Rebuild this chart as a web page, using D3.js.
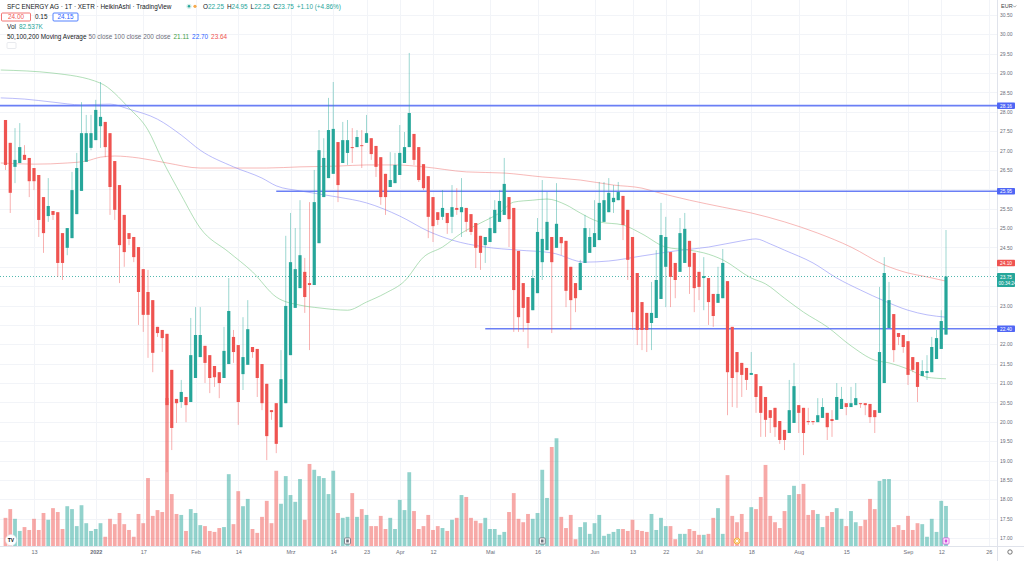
<!DOCTYPE html>
<html>
<head>
<meta charset="utf-8">
<script src="https://cdn.jsdelivr.net/npm/d3@7"></script>
<style>
  body { margin: 0; background: #fff; }
  svg { display: block; font-family: "Liberation Sans", Arial, sans-serif; }
</style>
</head>
<body>
<svg id="chart" width="1024" height="561"></svg>
<script>
// Heikin Ashi candles, one per trading day (Dec 2021 .. 13 Sep 2022)
const opens = [27.79,27.20,26.58,26.68,26.89,26.81,26.55,26.37,25.80,25.31,
 25.44,25.41,24.87,24.49,24.74,25.36,25.96,26.71,27.07,27.27,
 27.63,27.74,27.45,26.73,26.11,25.34,24.87,24.77,24.51,23.94,
 23.35,23.14,22.45,22.37,22.27,21.34,20.59,20.51,20.64,20.51,
 21.13,21.67,21.96,21.72,21.44,21.28,21.13,21.49,22.19,21.98,
 21.23,21.47,21.93,21.88,21.49,20.98,20.30,20.48,19.86,20.48,
 21.72,22.94,23.45,23.87,23.58,23.53,24.61,25.80,26.29,26.40,
 27.22,26.68,26.94,27.09,27.09,27.14,27.20,27.32,27.12,26.83,
 26.40,26.06,26.16,26.37,26.68,27.09,27.43,27.09,26.65,26.34,
 25.80,25.41,25.29,25.39,25.29,25.52,25.41,25.52,25.36,25.13,
 24.80,24.56,24.64,24.87,25.16,25.34,25.80,25.52,24.41,23.58,
 23.22,22.88,23.32,24.12,24.43,24.77,24.49,24.77,24.67,24.00,
 23.58,23.40,24.10,24.36,24.51,24.69,25.16,25.41,25.67,25.72,
 25.83,25.47,24.77,23.84,23.09,22.81,22.55,22.68,23.17,24.00,
 24.38,24.10,23.87,24.10,24.67,24.36,23.87,23.71,23.71,23.30,
 23.07,23.19,23.63,22.45,21.80,21.52,21.39,21.21,21.23,20.92,
 20.64,20.30,20.36,20.02,19.79,19.71,19.97,20.43,20.36,20.02,
 20.02,19.99,20.10,20.23,20.07,20.05,20.33,20.48,20.38,20.43,
 20.48,20.48,20.46,20.30,20.23,21.00,22.42,22.78,22.29,22.24,
 22.08,21.67,21.54,21.18,21.26,21.28,21.62,21.88,22.25];
const highs = [27.79,27.20,27.58,27.71,27.14,26.81,26.55,26.37,25.80,26.29,
 25.44,25.41,24.87,25.00,26.45,26.94,28.25,27.92,27.92,28.31,
 28.77,27.74,27.45,26.73,26.11,25.34,24.87,24.77,24.51,23.94,
 23.92,23.14,22.45,22.37,22.27,21.34,20.59,21.08,20.64,22.68,
 22.96,22.96,21.96,21.72,21.44,21.28,22.45,23.71,22.37,21.98,
 22.70,23.14,21.93,21.88,21.49,20.98,20.30,20.48,21.85,24.80,
 25.39,25.00,25.72,24.23,25.67,26.50,27.53,27.32,28.36,28.77,
 27.22,27.74,27.79,27.58,27.53,27.53,27.92,27.32,27.12,26.83,
 26.40,26.96,26.94,27.66,27.48,29.52,27.43,27.09,26.65,26.34,
 25.80,25.41,25.98,25.39,26.11,26.03,26.29,25.52,25.36,25.13,
 24.80,24.77,25.29,25.72,25.98,26.81,25.80,25.52,24.41,23.58,
 23.22,23.92,25.26,26.24,25.93,24.77,26.16,24.77,24.67,24.00,
 23.58,24.18,25.34,25.00,25.72,26.19,26.19,26.29,26.11,26.19,
 25.83,25.47,24.77,23.84,23.09,22.81,23.61,24.43,25.65,25.29,
 24.38,24.10,25.26,25.39,24.67,24.36,23.87,24.25,23.71,23.30,
 24.00,24.46,23.63,22.45,21.80,21.52,21.39,21.80,21.23,20.92,
 20.64,20.30,20.36,20.02,19.79,21.08,21.52,20.43,20.36,20.36,
 20.02,20.61,20.61,20.23,20.30,21.00,20.90,20.48,20.90,21.00,
 20.48,20.48,20.46,20.30,23.48,24.25,23.61,22.78,22.29,22.24,
 22.08,21.67,21.54,21.59,21.72,22.19,22.37,22.88,24.95];
const lows = [26.50,25.39,26.16,26.68,26.76,25.80,25.98,24.77,24.36,25.16,
 25.21,23.74,23.66,24.30,24.74,25.36,25.96,26.71,27.01,27.27,
 27.07,26.83,25.34,25.21,23.58,24.00,24.56,24.12,22.50,22.32,
 21.65,21.28,22.19,21.80,18.70,19.27,19.97,20.36,19.99,20.51,
 21.13,21.67,21.00,20.74,20.90,20.61,21.13,21.49,21.52,19.92,
 20.82,21.47,21.65,20.64,20.30,19.01,20.05,19.19,19.86,20.48,
 21.72,22.94,23.45,22.81,21.85,23.53,24.61,25.80,26.29,26.40,
 25.67,26.68,26.63,26.68,27.09,26.55,27.20,26.76,26.32,25.60,
 25.34,26.06,26.16,26.37,26.68,27.09,26.63,26.19,25.98,24.74,
 24.64,25.08,25.21,24.85,24.87,25.34,24.77,24.90,24.82,23.97,
 23.92,24.10,24.64,24.87,25.16,25.34,24.51,22.32,22.32,22.32,
 21.90,22.88,23.32,23.66,24.43,22.29,24.49,24.30,22.96,22.37,
 22.83,23.40,24.10,24.36,24.51,24.69,25.16,25.41,25.39,25.72,
 24.69,23.66,22.37,21.98,21.85,21.80,21.85,22.68,23.17,22.96,
 22.96,23.19,23.87,24.10,23.30,22.83,23.14,22.88,22.50,22.45,
 23.07,23.19,20.17,20.38,20.36,20.64,20.82,21.21,20.23,19.61,
 19.61,19.71,19.61,19.43,19.27,19.71,19.97,19.71,19.14,19.92,
 19.92,19.99,20.10,19.53,19.61,20.05,20.33,20.17,20.38,20.43,
 20.36,20.17,19.97,19.71,20.23,21.00,22.42,21.54,21.98,21.78,
 20.95,21.28,20.51,21.18,21.08,21.28,21.62,21.88,22.25];
const closes = [26.63,25.91,26.76,27.09,26.76,26.21,26.21,25.21,24.87,25.57,
 25.34,24.10,24.10,25.00,25.98,26.55,27.45,27.45,27.45,28.05,
 27.87,27.09,26.06,25.47,24.56,24.38,24.72,24.25,23.35,22.76,
 22.76,21.78,22.29,22.16,20.43,19.84,20.48,20.77,20.43,21.72,
 22.24,22.24,21.52,21.13,21.15,21.00,21.83,22.86,21.80,20.51,
 21.67,22.39,21.80,21.13,20.48,19.63,20.25,19.43,21.10,22.99,
 24.12,23.94,24.30,23.22,23.53,25.67,27.01,26.81,27.53,27.56,
 26.11,27.27,27.27,27.07,27.35,27.12,27.45,26.91,26.58,25.80,
 25.80,26.24,26.63,26.94,27.09,27.97,26.76,26.24,26.03,25.29,
 25.05,25.21,25.52,25.13,25.54,25.47,25.54,25.16,24.90,24.49,
 24.36,24.77,25.00,25.47,25.70,26.14,25.23,23.40,22.70,22.94,
 22.55,23.71,24.90,24.72,25.16,24.12,25.11,24.61,23.38,23.14,
 23.19,24.10,25.00,24.77,24.87,25.65,25.72,25.91,25.78,25.93,
 25.08,24.18,22.83,22.37,22.37,22.37,22.81,23.66,24.82,24.77,
 23.74,23.66,24.87,24.98,24.00,23.45,23.48,23.76,23.09,22.73,
 23.30,24.10,21.28,21.13,21.28,21.21,21.08,21.26,20.64,20.23,
 20.05,20.10,19.86,19.53,19.53,20.30,20.92,20.23,19.71,19.99,
 19.99,20.17,20.38,19.86,20.02,20.64,20.59,20.38,20.48,20.61,
 20.46,20.43,20.12,20.12,21.80,23.84,23.14,21.85,22.19,21.93,
 21.21,21.34,20.90,21.31,21.31,21.93,22.16,22.60,23.75];
// volume in thousands
const volumes = [58,76,56,31,39,33,56,33,68,54,
 78,70,35,82,76,41,84,47,31,35,
 47,19,56,45,68,45,33,19,66,47,
 140,62,74,70,305,107,66,64,31,76,
 68,43,41,31,29,37,39,148,45,113,
 82,97,35,27,60,93,47,155,87,144,
 105,91,138,54,169,157,144,140,107,155,
 68,58,60,109,60,76,64,41,41,62,
 35,58,35,95,74,152,72,35,41,64,
 33,41,37,31,54,58,105,101,58,52,
 47,58,35,35,23,29,70,109,56,49,
 66,56,68,157,99,204,222,60,37,64,
 14,39,49,25,47,64,21,25,29,35,
 35,31,54,33,31,29,66,33,58,41,
 41,14,25,25,35,31,23,23,25,58,
 78,25,146,62,49,66,29,80,76,101,
 167,62,49,37,72,105,124,107,128,64,
 74,66,39,62,70,78,56,41,72,49,
 41,54,97,76,134,138,138,39,43,33,
 62,33,47,45,19,56,29,93,82.5];

// moving averages: [bar index, value]
const ma50 = [[-1,29.08],[10,29.00],[20,28.74],[26,28.10],[30,27.53],[33,26.76],[37,25.85],[41,25.00],
 [47,24.38],[52,23.87],[57,23.22],[62,23.01],[66,22.94],[72,22.88],[76,23.09],[80,23.32],[84,23.63],
 [88,24.25],[92,24.51],[96,24.87],[100,25.13],[104,25.39],[107,25.67],[111,25.72],[114,25.75],
 [118,25.60],[121,25.39],[125,25.16],[130,25.08],[134,24.85],[139,24.51],[144,24.43],[147,24.36],
 [151,24.18],[157,23.71],[160,23.56],[164,23.19],[168,22.83],[173,22.45],[178,21.96],[183,21.59],
 [186,21.52],[190,21.36],[194,21.15],[198,21.11]];
const ma100 = [[-1,28.36],[4,28.33],[10,28.25],[16,28.18],[22,28.20],[26,28.07],[32,27.81],[37,27.40],
 [41,27.01],[48,26.58],[54,26.29],[57,26.09],[62,25.96],[70,25.80],[76,25.65],[83,25.31],[89,24.92],
 [94,24.69],[101,24.51],[108,24.43],[115,24.36],[122,24.12],[127,24.15],[134,24.28],[141,24.41],
 [148,24.51],[155,24.67],[158,24.72],[161,24.59],[164,24.43],[170,24.10],[175,23.71],[180,23.40],
 [185,23.12],[190,22.88],[194,22.76],[198,22.70]];
const ma200 = [[-1,26.68],[6,26.65],[13,26.68],[17,26.73],[20,26.83],[23,26.86],[28,26.81],[34,26.68],
 [41,26.55],[48,26.55],[55,26.55],[62,26.58],[70,26.60],[76,26.63],[82,26.63],[88,26.58],[97,26.45],
 [105,26.42],[113,26.32],[121,26.24],[128,26.11],[134,26.03],[137,25.93],[144,25.72],[151,25.54],
 [157,25.39],[164,25.16],[171,24.87],[178,24.51],[185,24.05],[190,23.84],[194,23.74],[198,23.63]];

// drawn horizontal levels and the bar each one starts at (null = left edge)
const levels = [28.16, 25.95, 22.40];
const levelStart = [null, 57, 101];

// time axis
const tickIdx = [6,19,29,40,49,60,69,76,83,90,102,112,124,132,139,146,157,167,177,190,197,207];
const tickLabels = ["13","2022","17","Feb","14","Mrz","14","23","Apr","12","Mai","16","Jun","13","22","Jul","18","Aug","15","Sep","12","26"];

// event markers under the bars
const markerIdx = [72, 113, 154, 198];
const markerKind = ["grey", "grey", "orange", "pink"];

const lastPrice = 23.75, redPrice = 24.10;

const up = "#26a69a", down = "#ef5350";
const plotRight = 997, plotBottom = 546;
const N = closes.length;

const svg = d3.select("#chart");

const x = d3.scaleLinear().domain([0, N - 1]).range([5.5, 946]);
const y = d3.scaleLinear().domain([17, 30.5]).range([538, 15]);
const yVol = d3.scaleLinear().domain([0, 300]).range([plotBottom, 400.4]);

svg.append("defs").append("clipPath").attr("id", "plot")
  .append("rect").attr("x", 0).attr("y", 0).attr("width", plotRight).attr("height", plotBottom);

const plot = svg.append("g").attr("clip-path", "url(#plot)");

// grid
const priceTicks = d3.range(17, 30.51, 0.5);
plot.append("g").selectAll("line").data(priceTicks).join("line")
  .attr("x1", 0).attr("x2", plotRight)
  .attr("y1", d => Math.round(y(d)) + 0.5).attr("y2", d => Math.round(y(d)) + 0.5)
  .attr("stroke", "#f2f4f8");
plot.append("g").selectAll("line").data(tickIdx).join("line")
  .attr("x1", d => Math.round(x(d)) + 0.5).attr("x2", d => Math.round(x(d)) + 0.5)
  .attr("y1", 0).attr("y2", plotBottom)
  .attr("stroke", "#f2f4f8");

const bars = d3.range(N).map(i => ({i, o: opens[i], h: highs[i], l: lows[i], c: closes[i], v: volumes[i]}));

// volume
plot.append("g").selectAll("rect").data(bars).join("rect")
  .attr("x", d => x(d.i) - 1.9).attr("width", 3.8)
  .attr("y", d => yVol(d.v)).attr("height", d => plotBottom - yVol(d.v))
  .attr("fill", d => d.c >= d.o ? up : down)
  .attr("fill-opacity", 0.5);

// moving averages
const line = d3.line().x(d => x(d[0])).y(d => y(d[1])).curve(d3.curveMonotoneX);
[[ma200, "#f28b89"], [ma100, "#8c8ff7"], [ma50, "#7fc98a"]].forEach(([data, col]) => {
  plot.append("path").datum(data).attr("d", line)
    .attr("fill", "none").attr("stroke", col).attr("stroke-width", 1).attr("stroke-opacity", 0.6);
});

// horizontal levels
plot.append("g").selectAll("line").data(levels).join("line")
  .attr("x1", (d, k) => levelStart[k] === null ? 0 : x(levelStart[k]))
  .attr("x2", plotRight)
  .attr("y1", d => y(d)).attr("y2", d => y(d))
  .attr("stroke", "#6a7ff5").attr("stroke-width", 1.6);

// last price line
plot.append("line")
  .attr("x1", 0).attr("x2", plotRight)
  .attr("y1", y(lastPrice)).attr("y2", y(lastPrice))
  .attr("stroke", up).attr("stroke-width", 0.8).attr("stroke-dasharray", "1,2");

// candles
const candles = plot.append("g").selectAll("g").data(bars).join("g")
  .attr("fill", d => d.c >= d.o ? up : down)
  .attr("stroke", d => d.c >= d.o ? up : down);
candles.append("line")
  .attr("x1", d => x(d.i)).attr("x2", d => x(d.i))
  .attr("y1", d => y(d.h)).attr("y2", d => y(d.l))
  .attr("stroke-width", 1).attr("stroke-opacity", 0.45);
candles.append("rect")
  .attr("x", d => x(d.i) - 1.6).attr("width", 3.2)
  .attr("y", d => y(Math.max(d.o, d.c)))
  .attr("height", d => Math.max(1, Math.abs(y(d.o) - y(d.c))))
  .attr("stroke", "none");

// markers
const markerColor = {grey: "#6b6f7a", orange: "#f5a623", pink: "#d54ce0"};
const mk = svg.append("g").selectAll("g").data(markerIdx.map((d, k) => ({i: d, kind: markerKind[k]}))).join("g")
  .attr("transform", d => `translate(${x(d.i)},541)`);
mk.filter(d => d.kind !== "orange").append("rect")
  .attr("x", -3).attr("y", -3).attr("width", 6).attr("height", 6).attr("rx", 0.8)
  .attr("fill", "#fff").attr("stroke", d => markerColor[d.kind]).attr("stroke-width", 0.8);
mk.filter(d => d.kind !== "orange").append("rect")
  .attr("x", -1.3).attr("y", -1.5).attr("width", 2.6).attr("height", 3)
  .attr("fill", d => markerColor[d.kind]);
mk.filter(d => d.kind === "orange").append("circle")
  .attr("r", 3).attr("fill", "#fff").attr("stroke", markerColor.orange).attr("stroke-width", 0.9);
mk.filter(d => d.kind === "orange").append("rect")
  .attr("x", -1.3).attr("y", -1.3).attr("width", 2.6).attr("height", 2.6)
  .attr("fill", "none").attr("stroke", markerColor.orange).attr("stroke-width", 0.6);

// axis borders
svg.append("line").attr("x1", plotRight + 0.5).attr("x2", plotRight + 0.5)
  .attr("y1", 0).attr("y2", 561).attr("stroke", "#e0e3eb");
svg.append("line").attr("x1", 0).attr("x2", 1024)
  .attr("y1", plotBottom + 0.5).attr("y2", plotBottom + 0.5).attr("stroke", "#e0e3eb");

// price axis: labels covered by a price tag are left out
const tagSpans = levels.concat([redPrice]).map(v => [y(v) - 3.25, y(v) + 3.25])
  .concat([[y(lastPrice) - 3.5, y(lastPrice) + 10.5]]);
const freeTicks = priceTicks.filter(v => !tagSpans.some(([a, b]) => y(v) + 2.2 > a && y(v) - 2.2 < b));
const yAxis = svg.append("g").attr("transform", `translate(${plotRight + 2},0)`)
  .call(d3.axisRight(y).tickValues(freeTicks).tickFormat(d3.format(".2f")).tickSize(0).tickPadding(1));
yAxis.select(".domain").remove();
yAxis.selectAll("text").attr("fill", "#6a6d78").style("font-size", "5px");

// time axis
const xAxis = svg.append("g").attr("transform", `translate(0,${plotBottom})`)
  .call(d3.axisBottom(x).tickValues(tickIdx)
    .tickFormat(d => tickLabels[tickIdx.indexOf(d)]).tickSize(0).tickPadding(4));
xAxis.select(".domain").remove();
xAxis.selectAll("text").attr("fill", "#6a6d78").style("font-size", "5.5px")
  .style("font-weight", d => tickLabels[tickIdx.indexOf(d)] === "2022" ? "bold" : "normal");

// axis price labels
function axisTag(value, fill, txt, h) {
  const g = svg.append("g").attr("transform", `translate(${plotRight},${y(value)})`);
  g.append("rect").attr("x", 0).attr("y", -h / 2).attr("width", 18).attr("height", h)
    .attr("rx", 0.8).attr("fill", fill);
  txt.forEach((t, k) => {
    g.append("text").attr("x", 3).attr("y", -h / 2 + 5.2 + k * 6.5)
      .attr("fill", "#fff").style("font-size", "4.8px").text(t);
  });
}
levels.forEach(v => axisTag(v, "#4f66f5", [v.toFixed(2)], 6.5));
axisTag(redPrice, down, [redPrice.toFixed(2)], 6.5);
svg.append("rect").attr("x", plotRight).attr("y", y(lastPrice) - 3.5).attr("width", 18).attr("height", 14)
  .attr("rx", 0.8).attr("fill", up);
svg.append("text").attr("x", plotRight + 3).attr("y", y(lastPrice) + 2)
  .attr("fill", "#fff").style("font-size", "4.8px").text(lastPrice.toFixed(2));
svg.append("text").attr("x", plotRight + 1.5).attr("y", y(lastPrice) + 8.5)
  .attr("fill", "#fff").style("font-size", "4.6px").text("00:34:24");

// currency + gear
svg.append("text").attr("x", 1001).attr("y", 8).attr("fill", "#444").style("font-size", "5.5px").text("EUR");
svg.append("path").attr("d", "M1013,5.5 l1.6,1.6 l1.6,-1.6").attr("fill", "none").attr("stroke", "#666").attr("stroke-width", 0.6);
svg.append("circle").attr("cx", 1010).attr("cy", 552).attr("r", 2.2)
  .attr("fill", "none").attr("stroke", "#555").attr("stroke-width", 0.8);

// TradingView logo
svg.append("circle").attr("cx", 11).attr("cy", 540).attr("r", 5.5).attr("fill", "#fff")
  .attr("stroke", "#e0e3eb").attr("stroke-width", 0.5);
svg.append("text").attr("x", 11).attr("y", 542).attr("text-anchor", "middle")
  .attr("fill", "#131722").style("font-size", "5px").style("font-weight", "bold").text("TV");

// header
const hdr = svg.append("g").style("font-size", "6.4px");
const l1 = hdr.append("text").attr("x", 7).attr("y", 8.5).attr("fill", "#131722");
l1.append("tspan").text("SFC ENERGY AG · 1T · XETR · HeikinAshi · TradingView");
hdr.append("circle").attr("cx", 189).attr("cy", 6.3).attr("r", 2.6).attr("fill", "#d7eee9");
hdr.append("circle").attr("cx", 189).attr("cy", 6.3).attr("r", 1.2).attr("fill", up);
hdr.append("circle").attr("cx", 195).attr("cy", 6.3).attr("r", 1.6).attr("fill", "#f7a94b");
const ohlc = hdr.append("text").attr("x", 203).attr("y", 8.5);
[["O", "22.25"], ["H", "24.95"], ["L", "22.25"], ["C", "23.75"]].forEach(([k, v], n) => {
  ohlc.append("tspan").attr("fill", "#131722").attr("dx", n ? 3 : 0).text(k);
  ohlc.append("tspan").attr("fill", up).text(v);
});
ohlc.append("tspan").attr("fill", up).attr("dx", 3).text("+1.10 (+4.86%)");

hdr.append("rect").attr("x", 1.5).attr("y", 13).attr("width", 29).attr("height", 8)
  .attr("rx", 1).attr("fill", "#fff").attr("stroke", down).attr("stroke-width", 0.8);
hdr.append("text").attr("x", 16).attr("y", 19.3).attr("text-anchor", "middle").attr("fill", down).text("24.00");
hdr.append("text").attr("x", 35).attr("y", 19.3).attr("fill", "#131722").text("0.15");
hdr.append("rect").attr("x", 53).attr("y", 13).attr("width", 25).attr("height", 8)
  .attr("rx", 1).attr("fill", "#fff").attr("stroke", "#2962ff").attr("stroke-width", 0.8);
hdr.append("text").attr("x", 65.5).attr("y", 19.3).attr("text-anchor", "middle").attr("fill", "#2962ff").text("24.15");

const l3 = hdr.append("text").attr("x", 7).attr("y", 29);
l3.append("tspan").attr("fill", "#131722").text("Vol");
l3.append("tspan").attr("fill", up).attr("dx", 3).text("82.537K");

const l4 = hdr.append("text").attr("x", 7).attr("y", 39);
l4.append("tspan").attr("fill", "#131722").text("50,100,200 Moving Average");
l4.append("tspan").attr("fill", "#6a6d78").attr("dx", 2).text("50 close 100 close 200 close");
l4.append("tspan").attr("fill", "#43a047").attr("dx", 3).text("21.11");
l4.append("tspan").attr("fill", "#2962ff").attr("dx", 3).text("22.70");
l4.append("tspan").attr("fill", down).attr("dx", 3).text("23.64");
hdr.append("rect").attr("x", 7).attr("y", 42.5).attr("width", 9).attr("height", 6).attr("rx", 1)
  .attr("fill", "#fff").attr("stroke", "#d1d4dc").attr("stroke-width", 0.5);
</script>
</body>
</html>
